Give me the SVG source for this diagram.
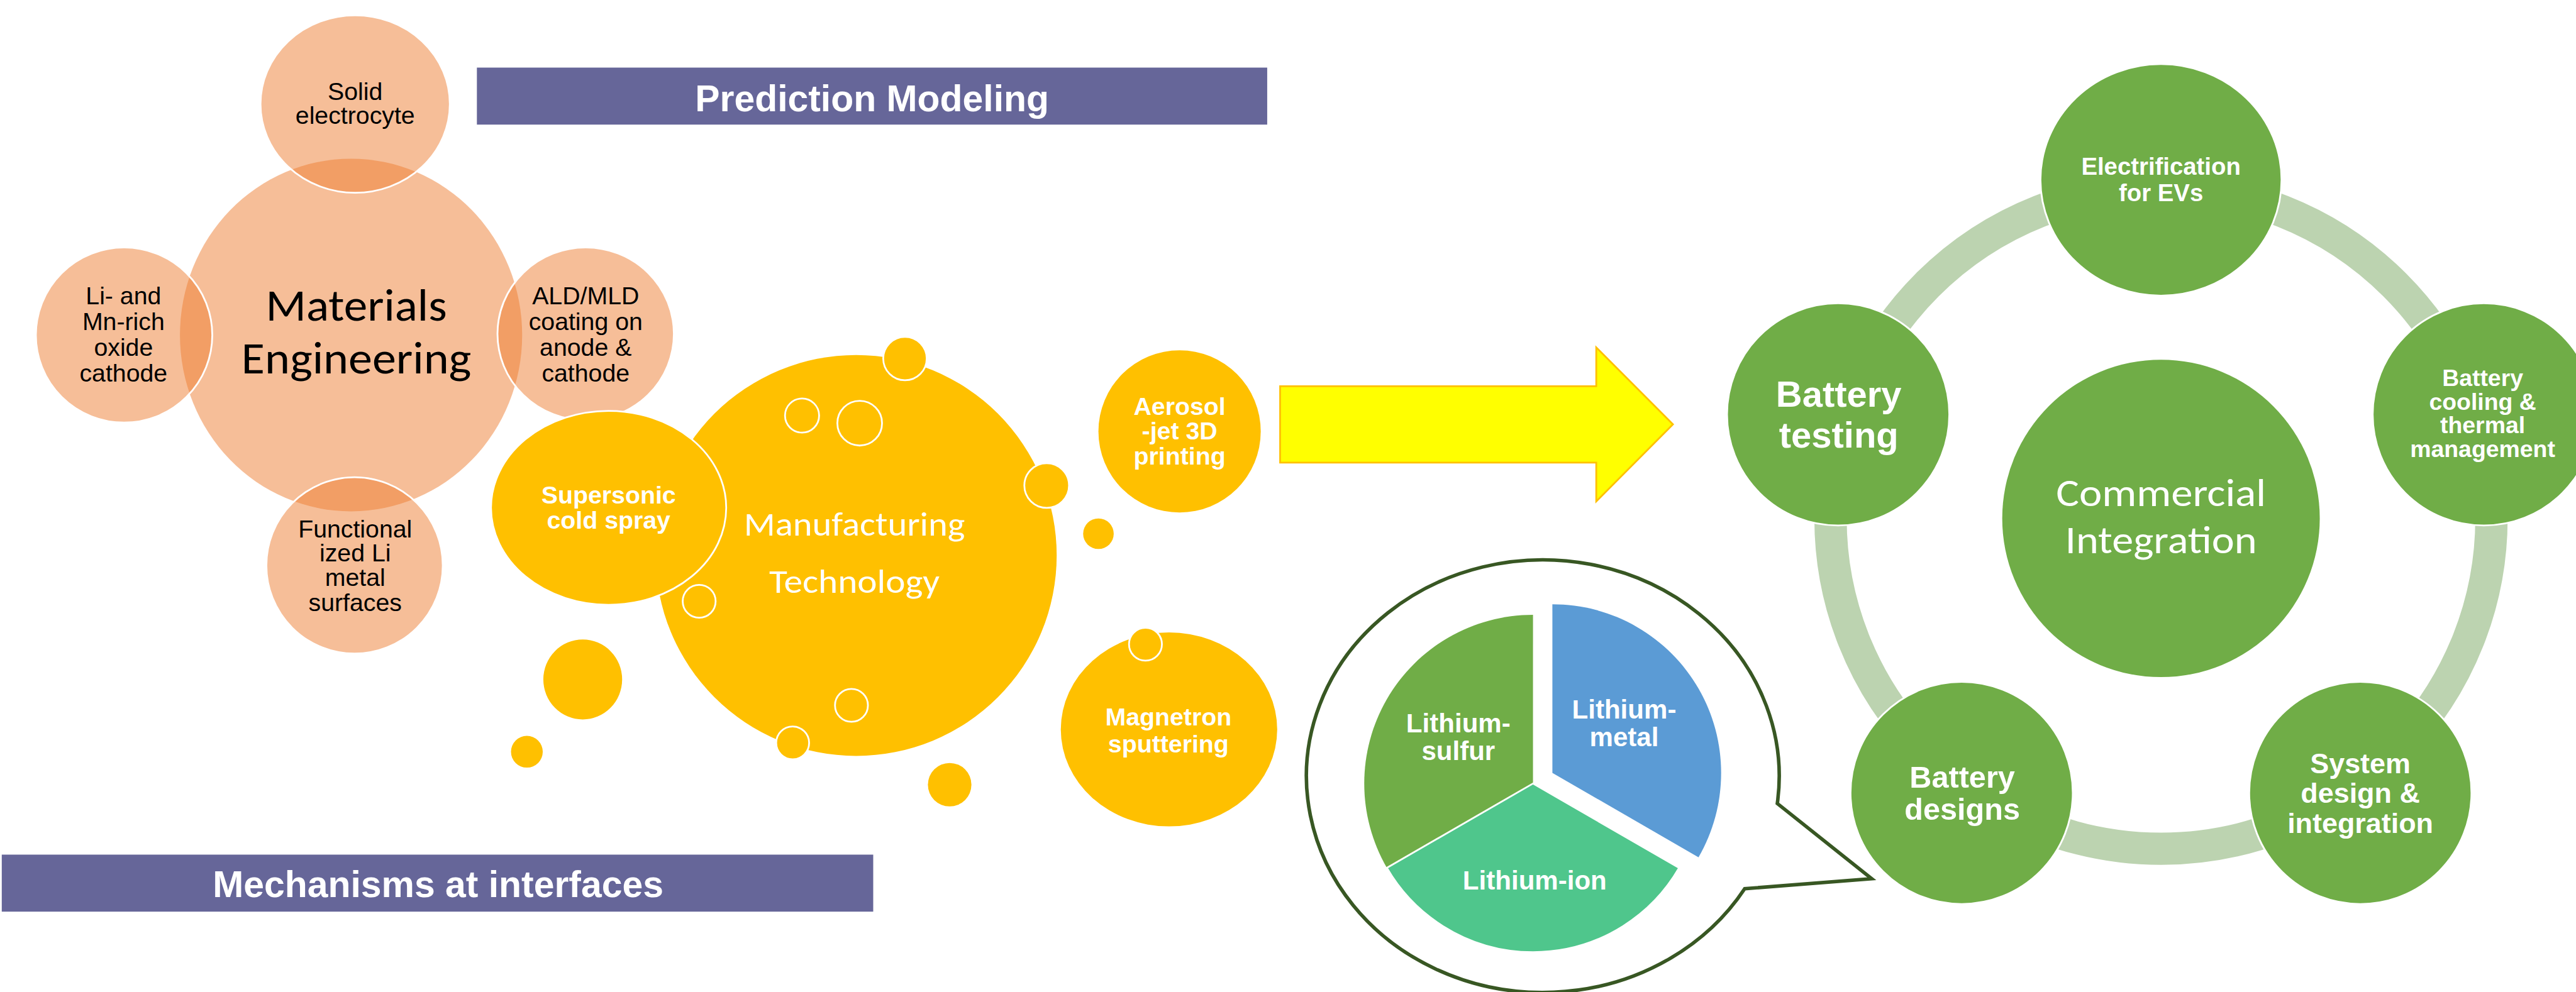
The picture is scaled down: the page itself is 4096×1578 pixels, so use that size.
<svg xmlns="http://www.w3.org/2000/svg" width="4096" height="1578" viewBox="0 0 4096 1578">
  <style>
    .t { font-family: "Liberation Sans", Arial, sans-serif; text-anchor: middle; }
    .blk { fill: #000; font-size: 42px; }
    .wb { fill: #fff; font-weight: bold; }
    .cal { font-family: Carlito, Lato, "Open Sans", sans-serif; text-anchor: middle; }
    .peach { fill: #ED7D31; fill-opacity: 0.5; }
    .sat { fill: #ED7D31; fill-opacity: 0.5; stroke: #fff; stroke-width: 3; }
    .gold { fill: #FFC000; }
    .goldS { fill: #FFC000; stroke: #fff; stroke-width: 3; }
    .node { fill: #70AD47; stroke: #fff; stroke-width: 3; }
    .bar { fill: #666699; }
  </style>
  <rect width="4096" height="1578" fill="#fff"/>
  <g transform="scale(0.935)">

    <!-- header bars -->
    <g id="prediction-modeling">
      <rect class="bar" x="811" y="115" width="1344" height="97"/>
      <text class="t wb" x="1483" y="189" font-size="63">Prediction Modeling</text>
    </g>
    <g id="mechanisms-at-interfaces">
      <rect class="bar" x="3" y="1454" width="1482" height="97"/>
      <text class="t wb" x="745" y="1526" font-size="63">Mechanisms at interfaces</text>
    </g>

    <!-- materials engineering venn cluster -->
    <g id="materials-engineering">
      <ellipse class="peach" cx="597" cy="570" rx="291" ry="300"/>
      <text class="cal" x="606" y="545" font-size="76" fill="#000" textLength="308" lengthAdjust="spacingAndGlyphs">Materials</text>
      <text class="cal" x="606" y="635" font-size="76" fill="#000" textLength="391" lengthAdjust="spacingAndGlyphs">Engineering</text>
    </g>
    <g id="solid-electrocyte">
      <ellipse class="sat" cx="604" cy="177" rx="161" ry="151"/>
      <text class="t blk" x="604" y="170">Solid</text>
      <text class="t blk" x="604" y="211">electrocyte</text>
    </g>
    <g id="li-mn-rich-cathode">
      <ellipse class="sat" cx="211" cy="570" rx="150" ry="149"/>
      <text class="t blk" x="210" y="518">Li- and</text>
      <text class="t blk" x="210" y="561">Mn-rich</text>
      <text class="t blk" x="210" y="605">oxide</text>
      <text class="t blk" x="210" y="649">cathode</text>
    </g>
    <g id="ald-mld-coating">
      <ellipse class="sat" cx="996" cy="568" rx="150" ry="147"/>
      <text class="t blk" x="996" y="518">ALD/MLD</text>
      <text class="t blk" x="996" y="561">coating on</text>
      <text class="t blk" x="996" y="605">anode &amp;</text>
      <text class="t blk" x="996" y="649">cathode</text>
    </g>
    <g id="functionalized-li">
      <ellipse class="sat" cx="603" cy="962" rx="150" ry="150"/>
      <text class="t blk" x="604" y="914">Functional</text>
      <text class="t blk" x="604" y="955">ized Li</text>
      <text class="t blk" x="604" y="997">metal</text>
      <text class="t blk" x="604" y="1040">surfaces</text>
    </g>

    <!-- manufacturing technology bubble cluster -->
    <g id="manufacturing-technology">
      <circle class="gold" cx="1456" cy="945" r="341"/>
      <text class="cal" x="1453" y="911" font-size="57" font-weight="300" fill="#fff" textLength="376" lengthAdjust="spacingAndGlyphs">Manufacturing</text>
      <text class="cal" x="1453" y="1009" font-size="57" font-weight="300" fill="#fff" textLength="290" lengthAdjust="spacingAndGlyphs">Technology</text>
    </g>
    <g id="supersonic-cold-spray">
      <ellipse class="goldS" cx="1035" cy="864" rx="200" ry="165"/>
      <text class="t wb" x="1035" y="857" font-size="42">Supersonic</text>
      <text class="t wb" x="1035" y="899" font-size="42">cold spray</text>
    </g>
    <g id="aerosol-jet-printing">
      <circle class="gold" cx="2006" cy="734" r="138"/>
      <text class="t wb" x="2006" y="706" font-size="42">Aerosol</text>
      <text class="t wb" x="2006" y="748" font-size="42">-jet 3D</text>
      <text class="t wb" x="2006" y="790" font-size="42">printing</text>
    </g>
    <g id="magnetron-sputtering">
      <ellipse class="gold" cx="1988" cy="1241" rx="184" ry="165"/>
      <text class="t wb" x="1987" y="1234" font-size="42">Magnetron</text>
      <text class="t wb" x="1987" y="1280" font-size="42">sputtering</text>
    </g>
    <g id="droplets">
      <circle class="goldS" cx="1364" cy="707" r="29"/>
      <circle class="goldS" cx="1462" cy="720" r="38"/>
      <circle class="goldS" cx="1539" cy="610" r="37"/>
      <circle class="goldS" cx="1780" cy="826" r="38"/>
      <circle class="gold" cx="1868" cy="908" r="26"/>
      <circle class="goldS" cx="1189" cy="1023" r="28"/>
      <ellipse class="gold" cx="991" cy="1156" rx="67" ry="68"/>
      <circle class="gold" cx="896" cy="1279" r="27"/>
      <circle class="goldS" cx="1448" cy="1200" r="28"/>
      <circle class="goldS" cx="1348" cy="1264" r="28"/>
      <circle class="gold" cx="1615" cy="1335" r="37"/>
      <circle class="goldS" cx="1948" cy="1096" r="28"/>
    </g>

    <!-- battery chemistries callout -->
    <g id="chemistry-callout">
      <path d="M3022.5 1367 L3183 1495 L2967 1512 A402 368 0 1 1 3022.5 1367 Z" fill="#fff" stroke="#385723" stroke-width="6" stroke-linejoin="miter"/>
    </g>
    <g id="lithium-sulfur">
      <path d="M2607 1333 L2607 1046 A287 287 0 0 0 2358.5 1476.5 Z" fill="#70AD47"/>
      <text class="t wb" x="2480" y="1246" font-size="45">Lithium-</text>
      <text class="t wb" x="2480" y="1293" font-size="45">sulfur</text>
    </g>
    <g id="lithium-ion">
      <path d="M2607 1333 L2855.5 1476.5 A287 287 0 0 1 2358.5 1476.5 Z" fill="#4FC68C" stroke="#fff" stroke-width="3" stroke-linejoin="round"/>
      <text class="t wb" x="2610" y="1513" font-size="45">Lithium-ion</text>
    </g>
    <g id="lithium-metal">
      <path d="M2640 1315 L2640 1028 A287 287 0 0 1 2888.5 1458.5 Z" fill="#5B9BD5"/>
      <text class="t wb" x="2762" y="1222" font-size="45">Lithium-</text>
      <text class="t wb" x="2762" y="1270" font-size="45">metal</text>
    </g>

    <!-- connectors: block arrow and the integration cycle ring -->
    <g id="connectors">
      <polygon points="2177,657 2714.6,657 2714.6,591 2845,722 2714.6,853 2714.6,787 2177,787" fill="#FFFF00" stroke="#FFC000" stroke-width="3"/>
      <circle cx="3675" cy="882" r="562" fill="none" stroke="#BCD3B0" stroke-width="55"/>
    </g>

    <!-- commercial integration cycle -->
    <g id="commercial-integration">
      <circle cx="3675" cy="882" r="270" fill="#70AD47"/>
      <text class="cal" x="3675" y="861" font-size="66" font-weight="300" fill="#fff" textLength="357" lengthAdjust="spacingAndGlyphs">Commercial</text>
      <text class="cal" x="3675" y="941" font-size="66" font-weight="300" fill="#fff" textLength="326" lengthAdjust="spacingAndGlyphs">Integration</text>
    </g>
    <g id="electrification-evs">
      <ellipse class="node" cx="3675" cy="306" rx="205" ry="197"/>
      <text class="t wb" x="3675" y="297" font-size="41">Electrification</text>
      <text class="t wb" x="3675" y="342" font-size="41">for EVs</text>
    </g>
    <g id="battery-cooling">
      <circle class="node" cx="4224" cy="705" r="189"/>
      <text class="t wb" x="4222" y="657" font-size="40">Battery</text>
      <text class="t wb" x="4222" y="697" font-size="40">cooling &amp;</text>
      <text class="t wb" x="4222" y="737" font-size="40">thermal</text>
      <text class="t wb" x="4222" y="778" font-size="40">management</text>
    </g>
    <g id="system-design">
      <circle class="node" cx="4014" cy="1349" r="189"/>
      <text class="t wb" x="4014" y="1316" font-size="48">System</text>
      <text class="t wb" x="4014" y="1366" font-size="48">design &amp;</text>
      <text class="t wb" x="4014" y="1417" font-size="48">integration</text>
    </g>
    <g id="battery-designs">
      <circle class="node" cx="3336" cy="1349" r="189"/>
      <text class="t wb" x="3337" y="1340" font-size="52">Battery</text>
      <text class="t wb" x="3337" y="1395" font-size="52">designs</text>
    </g>
    <g id="battery-testing">
      <circle class="node" cx="3126" cy="705" r="189"/>
      <text class="t wb" x="3127" y="692" font-size="62">Battery</text>
      <text class="t wb" x="3127" y="761" font-size="62">testing</text>
    </g>
  </g>
</svg>
